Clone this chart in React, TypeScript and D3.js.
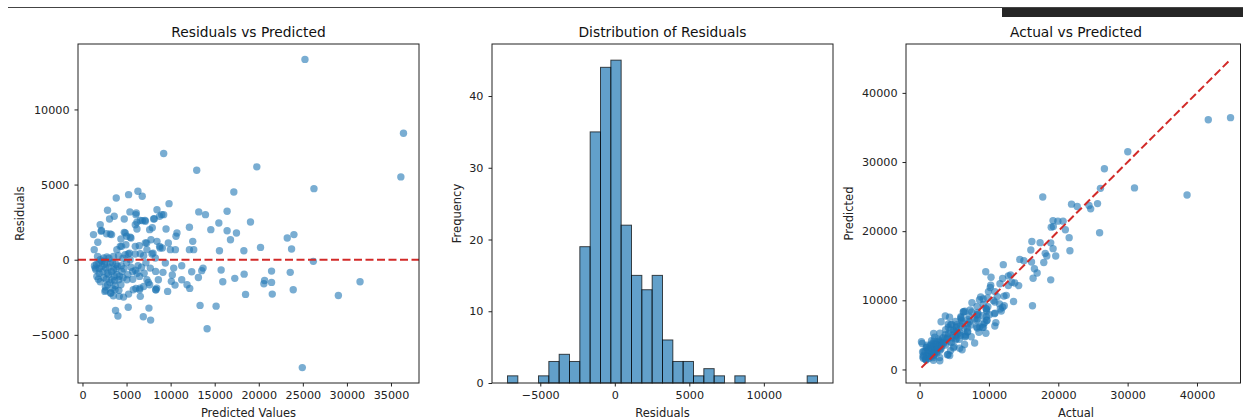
import React, { useEffect, useRef } from "react";
import * as d3 from "d3";

// [predicted, residual] pairs (actual = predicted + residual)
const samples: [number, number][] = [
  [25240, 13330], [36420, 8420], [36120, 5510], [9210, 7070], [12960, 5950], [19780, 6180], [26260, 4730], [17170, 4510],
  [3830, 4110], [5230, 4330], [6290, 4560], [6780, 4220], [9820, 3730], [2840, 3290], [5380, 3180], [6100, 3110],
  [8450, 3330], [9210, 3000], [13190, 3180], [13950, 3000], [16410, 3220], [3600, 2890], [3070, 2710], [4740, 2710],
  [6060, 3000], [5990, 2330], [6180, 2500], [6560, 2620], [7130, 2560], [8070, 2710], [8750, 2890],
  [1250, 1670], [2010, 2330], [2120, 1890], [1740, 1160], [3150, 1710], [4360, 1380], [4850, 1780], [5420, 1490],
  [4280, 890], [3900, 670], [4930, 1000], [5340, 440], [5990, 890], [6180, 2040], [7130, 1110], [7310, 670],
  [7620, 2000], [7920, 2130], [8450, 1220], [8000, 440], [8750, 890], [9060, 780], [9480, 2040], [9970, 670],
  [10540, 670], [10610, 1560], [10720, 1780], [12130, 2160], [12510, 1220], [12130, 670], [12620, 670], [14560, 2000],
  [15470, 2440], [15540, 600], [16410, 1930], [16790, 1330], [17470, 1780], [18310, 600], [19060, 2510], [20200, 820],
  [23230, 1440], [23990, 1670], [23720, 710], [1330, 670],
  [2160, 1950], [2730, 1730], [3300, 1670], [4740, 1820], [5500, 1440], [5010, 1560], [4440, 890], [6440, 930],
  [7280, 1110], [7770, 1330], [8800, 780], [9740, 1110], [6790, 2600], [7090, 2620], [8150, 2730], [8990, 3000],
  [26190, -110], [31490, -1470], [29030, -2380], [24940, -7180], [14140, -4600], [13340, -3040], [15160, -3090], [18500, -2310],
  [21530, -2290], [23910, -2000], [21450, -760], [23570, -840], [21450, -1510], [20660, -1380], [20580, -1600], [17280, -1240],
  [18340, -960], [15920, -1470], [15730, -690], [13680, -560], [13530, -730], [13150, -1180], [12390, -800], [11260, -400],
  [10350, -560], [10190, -1020], [10080, -1440], [10500, -1690], [11260, -1330], [11860, -1670], [12170, -1910], [9660, -2110],
  [8300, -2000], [7620, -1670], [8300, -780], [9130, -840], [9400, -220], [7690, -560], [7310, -1330], [6480, -1110],
  [6480, -2000], [6560, -2440], [6060, -1910], [6940, -1780], [5690, -780], [5150, -1000], [5040, -1330], [5230, -2290],
  [4660, -2490], [5190, -3160], [3750, -3380], [4020, -3750], [6900, -3800], [7730, -4020], [7540, -3220], [4130, -2040],
  [3710, -1730], [3180, -2220], [2620, -2040], [2010, -1470], [1520, -670], [1360, -400], [1860, -220], [2200, -440],
  [2650, -560], [2960, -1000], [3340, -1330], [3640, -1400], [4130, -1330], [4360, -1670], [3520, -670], [3150, -220],
  [2580, -110], [2010, 0], [1710, 220], [2390, 110], [2770, 180], [3520, 220], [4090, 270], [4850, 330],
  [5190, 380], [5990, 380], [6560, 400], [6940, 270], [7880, 380], [8260, 110], [1440, -560], [3900, -1000],
  [4470, -780], [3980, -440], [2840, -1670], [1630, -1110],
  [2540, -2110], [3230, -2220], [4170, -2440], [5760, -2000], [6520, -1890], [7470, -1510], [8420, -1890], [8610, -1330],
  [8340, -2000],
  [1600, -300], [1900, -600], [2300, -800], [2500, -300], [2800, -900], [3000, -500], [3300, -800], [3600, -1100],
  [3800, -600], [2400, -1200], [2700, -1300], [3100, -1500], [3400, -1900], [3700, -2000], [4200, -1100], [4600, -1200],
  [1900, -900], [2200, -100], [3000, 100], [3400, -200], [3800, -300], [4400, -400], [4700, -600], [5000, -200],
  [5500, -500], [6000, -700], [6300, -400], [6200, -900], [5700, -1300], [7000, -900], [7200, -200], [6700, -500],
  [5400, 0], [4600, 100], [1800, -1300], [2600, -1800], [3500, -2400],
];

// histogram of residuals, 30 bins
const histCounts = [1, 0, 0, 1, 3, 4, 3, 19, 35, 44, 45, 22, 15, 13, 15, 6, 3, 3, 1, 2, 1, 0, 1, 0, 0, 0, 0, 0, 0, 1];
const histRange = [-7200, 13600];

const residXTicks = [0, 5000, 10000, 15000, 20000, 25000, 30000, 35000];
const residYTicks = [-5000, 0, 5000, 10000];
const histXTicks = [-5000, 0, 5000, 10000];
const histYTicks = [0, 10, 20, 30, 40];
const avpTicks = [0, 10000, 20000, 30000, 40000];

const titles = ["Residuals vs Predicted", "Distribution of Residuals", "Actual vs Predicted"];
const xLabels = ["Predicted Values", "Residuals", "Actual"];
const yLabels = ["Residuals", "Frequency", "Predicted"];

const FONT = "DejaVu Sans, sans-serif";
const BLUE = "#1f77b4";
const RED = "#d22a28";

const pad = ([a, b]: number[]) => [a - (b - a) * 0.05, b + (b - a) * 0.05];

export default function App() {
  const ref = useRef<SVGSVGElement>(null);
  useEffect(() => {
    const node = ref.current;
    if (!node) return;
    const svg = d3.select(node);
    svg.selectAll("*").remove();
    const top = 44, bot = 383;
    const boxes = [[78, 419], [492, 833], [906, 1246]];
    const ylabX = [23.5, 461.3, 853.4];

    // page chrome above the figure
    svg.append("line").attr("x1", 8).attr("x2", 1243).attr("y1", 7.5).attr("y2", 7.5).attr("stroke", "#444").attr("stroke-width", 1.2);
    svg.append("rect").attr("x", 1002).attr("y", 8).attr("width", 241).attr("height", 9).attr("fill", "#262626");

    const predicted = samples.map((d) => d[0]);
    const residuals = samples.map((d) => d[1]);
    const actual = samples.map((d) => d[0] + d[1]);

    const frame = (i: number, x: any, y: any, xt: number[], yt: number[]) => {
      const [x0, x1] = boxes[i];
      const right = Math.min(x1, 1240.5); // figure is cut at the page edge
      const g = svg.append("g");
      const fmt = d3.format("d");
      g.append("g").attr("transform", `translate(0,${bot})`)
        .call(d3.axisBottom(x).tickValues(xt).tickSize(3.5).tickPadding(5).tickFormat(fmt as any));
      g.append("g").attr("transform", `translate(${x0},0)`)
        .call(d3.axisLeft(y).tickValues(yt).tickSize(3.5).tickPadding(5).tickFormat(fmt as any));
      g.selectAll(".domain").remove();
      g.selectAll(".tick line").attr("stroke", "#222");
      g.selectAll(".tick text").attr("font-size", 11.2).attr("font-family", FONT).attr("fill", "#222");
      g.append("rect").attr("x", x0).attr("y", top).attr("width", right - x0).attr("height", bot - top)
        .attr("fill", "none").attr("stroke", "#222").attr("stroke-width", 1);
      g.append("text").attr("x", (x0 + x1) / 2).attr("y", 37).attr("text-anchor", "middle")
        .attr("font-size", 13.8).attr("font-family", FONT).attr("fill", "#111").text(titles[i]);
      g.append("text").attr("x", (x0 + x1) / 2).attr("y", 416.5).attr("text-anchor", "middle")
        .attr("font-size", 11.5).attr("font-family", FONT).attr("fill", "#222").text(xLabels[i]);
      g.append("text").attr("transform", `translate(${ylabX[i]},${(top + bot) / 2}) rotate(-90)`)
        .attr("text-anchor", "middle").attr("font-size", 11.5).attr("font-family", FONT).attr("fill", "#222").text(yLabels[i]);
    };

    // 1: residuals vs predicted
    {
      const x = d3.scaleLinear().domain(pad(d3.extent(predicted) as number[])).range(boxes[0]);
      const y = d3.scaleLinear().domain(pad(d3.extent(residuals) as number[])).range([bot, top]);
      const g = svg.append("g");
      g.selectAll("circle").data(samples).enter().append("circle")
        .attr("cx", (d) => x(d[0])).attr("cy", (d) => y(d[1])).attr("r", 3.7)
        .attr("fill", BLUE).attr("fill-opacity", 0.6);
      g.append("line").attr("x1", boxes[0][0]).attr("x2", boxes[0][1]).attr("y1", y(0)).attr("y2", y(0))
        .attr("stroke", RED).attr("stroke-width", 2).attr("stroke-dasharray", "8,3.5");
      frame(0, x, y, residXTicks, residYTicks);
    }

    // 2: histogram
    {
      const [lo, hi] = histRange;
      const bw = (hi - lo) / histCounts.length;
      const x = d3.scaleLinear().domain(pad(histRange)).range(boxes[1]);
      const y = d3.scaleLinear().domain([0, (d3.max(histCounts) as number) * 1.05]).range([bot, top]);
      svg.append("g").selectAll("rect").data(histCounts).enter().append("rect")
        .attr("x", (_, i) => x(lo + i * bw)).attr("width", x(lo + bw) - x(lo))
        .attr("y", (d) => y(d)).attr("height", (d) => y(0) - y(d))
        .attr("fill", BLUE).attr("fill-opacity", 0.7)
        .attr("stroke", "#000").attr("stroke-opacity", 0.7).attr("stroke-width", 1)
        .style("display", (d) => (d > 0 ? null : "none"));
      frame(1, x, y, histXTicks, histYTicks);
    }

    // 3: actual vs predicted
    {
      const ext = d3.extent(actual) as number[];
      const all = d3.extent([...predicted, ...ext]) as number[];
      const x = d3.scaleLinear().domain(pad(ext)).range(boxes[2]);
      const y = d3.scaleLinear().domain(pad(all)).range([bot, top]);
      const g = svg.append("g");
      g.selectAll("circle").data(samples).enter().append("circle")
        .attr("cx", (d) => x(d[0] + d[1])).attr("cy", (d) => y(d[0])).attr("r", 3.7)
        .attr("fill", BLUE).attr("fill-opacity", 0.6);
      const line = d3.line<number>().x((d) => x(d)).y((d) => y(d));
      g.append("path").attr("d", line(ext)).attr("fill", "none")
        .attr("stroke", RED).attr("stroke-width", 2).attr("stroke-dasharray", "8,3.5");
      frame(2, x, y, avpTicks, avpTicks);
    }
  }, []);
  return <svg ref={ref} width={1243} height={419} style={{ position: "absolute", left: 0, top: 0, background: "#fff" }} />;
}
